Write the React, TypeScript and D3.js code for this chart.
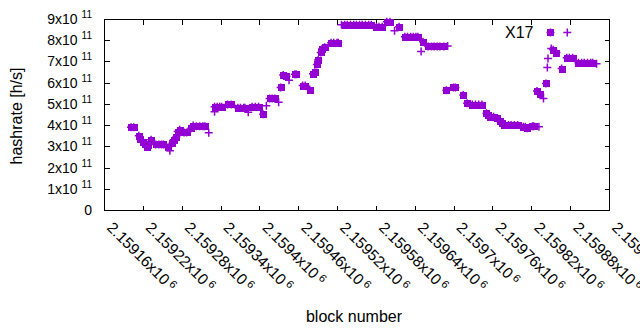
import React, { useEffect, useRef } from 'react';
import * as d3 from 'd3';

// block numbers / hashrate (h/s) of the X17 estimate
const blocks = [
  2159201, 2159205, 2159213, 2159215, 2159219, 2159222, 2159225, 2159227, 2159232,
  2159239, 2159244, 2159248, 2159251, 2159258,
  2159265, 2159267, 2159271, 2159273, 2159276,
  2159283, 2159287, 2159294, 2159297,
  2159302, 2159307, 2159312, 2159315,
  2159330, 2159334, 2159338, 2159341,
  2159350, 2159356,
  2159366, 2159370, 2159375, 2159377,
  2159388, 2159393, 2159398,
  2159405,
  2159415, 2159419, 2159423,
  2159432, 2159436, 2159441,
  2159454, 2159456,
  2159466, 2159470, 2159477,
  2159482, 2159485, 2159488, 2159490, 2159494, 2159496, 2159500,
  2159510, 2159514, 2159519, 2159521,
  2159531, 2159535, 2159540, 2159545, 2159549, 2159554, 2159558, 2159563, 2159568, 2159572,
  2159580, 2159584, 2159589,
  2159596, 2159601,
  2159615,
  2159624, 2159628, 2159633, 2159637, 2159641, 2159644,
  2159652,
  2159660, 2159665, 2159669, 2159674, 2159678, 2159684,
  2159688,
  2159699, 2159702,
  2159714, 2159720,
  2159728, 2159733, 2159738, 2159743,
  2159750, 2159753, 2159756, 2159761, 2159766, 2159771, 2159774, 2159777,
  2159784, 2159788, 2159793, 2159798,
  2159807, 2159810, 2159813,
  2159821, 2159823,
  2159828, 2159833,
  2159842,
  2159853, 2159858,
  2159866,
  2159874, 2159878, 2159883,
  2159892, 2159897, 2159901, 2159906, 2159911, 2159914,
];

const hashrate = [
  3.92e11, 3.92e11, 3.52e11, 3.38e11, 3.25e11, 3.13e11, 3.01e11, 3.09e11, 3.33e11,
  3.11e11, 3.11e11, 3.11e11, 3.11e11, 2.97e11,
  3.17e11, 3.33e11, 3.48e11, 3.72e11, 3.81e11,
  3.68e11, 3.68e11, 3.88e11, 4.0e11,
  3.97e11, 3.97e11, 3.97e11, 3.97e11,
  4.89e11, 4.89e11, 4.89e11, 4.89e11,
  5.0e11, 5.0e11,
  4.84e11, 4.84e11, 4.84e11, 4.84e11,
  4.89e11, 4.89e11, 4.89e11,
  4.53e11,
  5.28e11, 5.28e11, 5.28e11,
  5.8e11, 6.38e11, 6.33e11,
  6.42e11, 6.42e11,
  5.89e11, 5.89e11, 5.7e11,
  6.44e11, 6.52e11, 6.88e11, 7.09e11, 7.45e11, 7.61e11, 7.69e11,
  7.91e11, 7.91e11, 7.91e11, 7.91e11,
  8.75e11, 8.75e11, 8.75e11, 8.75e11, 8.75e11, 8.75e11, 8.75e11, 8.75e11, 8.75e11, 8.75e11,
  8.66e11, 8.66e11, 8.66e11,
  8.89e11, 8.89e11,
  8.66e11,
  8.19e11, 8.19e11, 8.19e11, 8.19e11, 8.19e11, 8.19e11,
  7.95e11,
  7.73e11, 7.73e11, 7.73e11, 7.73e11, 7.73e11, 7.73e11,
  5.67e11,
  5.8e11, 5.8e11,
  5.44e11, 5.05e11,
  4.99e11, 4.99e11, 4.99e11, 4.99e11,
  4.58e11, 4.5e11, 4.42e11, 4.42e11, 4.35e11, 4.23e11, 4.14e11, 4.03e11,
  4.03e11, 4.03e11, 4.03e11, 4.03e11,
  3.95e11, 3.95e11, 3.88e11,
  3.97e11, 3.97e11,
  5.63e11, 5.48e11,
  5.99e11,
  7.57e11, 7.44e11,
  6.69e11,
  7.2e11, 7.2e11, 7.2e11,
  6.96e11, 6.96e11, 6.96e11, 6.96e11, 6.96e11, 6.96e11,
];

// points that show only the "+" marker
const loneBlocks = [
  2159261, 2159321, 2159330, 2159382, 2159410, 2159429, 2159445, 2159526,
  2159608, 2159649, 2159690, 2159831, 2159838, 2159844, 2159845, 2159850, 2159920,
];
const loneHashrate = [
  2.81e11, 3.66e11, 4.65e11, 4.63e11, 4.94e11, 5.1e11, 6.14e11, 8.75e11,
  8.47e11, 7.49e11, 7.75e11, 3.95e11, 5.28e11, 6.74e11, 7.16e11, 7.63e11, 6.92e11,
];

const xTicks = [
  2159160, 2159220, 2159280, 2159340, 2159400, 2159460, 2159520,
  2159580, 2159640, 2159700, 2159760, 2159820, 2159880, 2159940,
];
const xTickLabels = [
  '2.15916', '2.15922', '2.15928', '2.15934', '2.1594', '2.15946', '2.15952',
  '2.15958', '2.15964', '2.1597', '2.15976', '2.15982', '2.15988', '2.15994',
];
const yTicks = [0, 1e11, 2e11, 3e11, 4e11, 5e11, 6e11, 7e11, 8e11, 9e11];
const yTickLabels = ['0', '1', '2', '3', '4', '5', '6', '7', '8', '9'];

const seriesName = 'X17';

const App = () => {
  const ref = useRef<SVGSVGElement>(null);

  useEffect(() => {
    const width = 640;
    const height = 330;
    const left = 104.5, right = 609.5, top = 19.5, bottom = 210.5;
    const purple = '#9400d3';
    const font = '"Liberation Sans", Arial, sans-serif';

    const svg = d3.select(ref.current);
    svg.selectAll('*').remove();
    svg.attr('width', width).attr('height', height);

    const x = d3.scaleLinear().domain([2159160, 2159940]).range([left, right]);
    const y = d3.scaleLinear().domain([0, 9e11]).range([bottom, top]);

    // ticks (mirrored on top / right)
    const tk = svg.append('g').attr('stroke', '#000').attr('stroke-width', 1)
      .attr('shape-rendering', 'crispEdges');
    xTicks.forEach(t => {
      const px = Math.round(x(t) - 0.5) + 0.5;
      tk.append('line').attr('x1', px).attr('x2', px).attr('y1', bottom).attr('y2', bottom - 5);
      tk.append('line').attr('x1', px).attr('x2', px).attr('y1', top).attr('y2', top + 5);
    });
    yTicks.forEach(t => {
      const py = Math.round(y(t) - 0.5) + 0.5;
      tk.append('line').attr('x1', left).attr('x2', left + 5).attr('y1', py).attr('y2', py);
      tk.append('line').attr('x1', right).attr('x2', right - 5).attr('y1', py).attr('y2', py);
    });
    tk.append('rect').attr('x', left).attr('y', top)
      .attr('width', right - left).attr('height', bottom - top).attr('fill', 'none');

    // y tick labels
    const yl = svg.append('g').attr('font-family', font).attr('fill', '#000');
    yTicks.forEach((t, i) => {
      const txt = yl.append('text').attr('x', 92).attr('y', y(t) + 4.5)
        .attr('text-anchor', 'end').attr('font-size', 14);
      if (t === 0) {
        txt.text(yTickLabels[i]);
      } else {
        txt.append('tspan').text(`${yTickLabels[i]}x10`);
        txt.append('tspan').attr('dx', 4).attr('dy', -6).attr('font-size', 10).text('11');
      }
    });

    // x tick labels, rotated
    const xl = svg.append('g').attr('font-family', font).attr('fill', '#000');
    xTicks.forEach((t, i) => {
      const txt = xl.append('text')
        .attr('transform', `translate(${x(t) + 1.5},228.5) rotate(45)`)
        .attr('font-size', 15.5);
      txt.append('tspan').text(`${xTickLabels[i]}x10`);
      txt.append('tspan').attr('dx', 3).attr('dy', -4.5).attr('font-size', 11).text('6');
    });

    // axis titles
    svg.append('text').attr('x', 354).attr('y', 321.5).attr('text-anchor', 'middle')
      .attr('font-family', font).attr('font-size', 16).text('block number');
    svg.append('text').attr('transform', 'translate(22,116) rotate(-90)')
      .attr('text-anchor', 'middle').attr('font-family', font).attr('font-size', 16)
      .text('hashrate [h/s]');

    const plot = svg.append('g');
    const square = 6;
    const arm = 4;

    const drawCross = (g: any, cx: number, cy: number) => {
      g.append('path')
        .attr('d', `M${cx - arm},${cy}H${cx + arm}M${cx},${cy - arm}V${cy + arm}`)
        .attr('stroke', purple).attr('stroke-width', 1.5).attr('fill', 'none');
    };

    const pts = blocks.map((b, i) => ({ b, v: hashrate[i] }));
    plot.selectAll('rect.sq').data(pts).enter().append('rect')
      .attr('class', 'sq')
      .attr('x', d => Math.round(x(d.b) - square / 2))
      .attr('y', d => Math.round(y(d.v) - square / 2))
      .attr('width', square + 1).attr('height', square + 1)
      .attr('shape-rendering', 'crispEdges')
      .attr('fill', purple);
    pts.forEach(d => drawCross(plot, x(d.b), y(d.v)));
    loneBlocks.forEach((b, i) => drawCross(plot, x(b), y(loneHashrate[i])));

    // key
    svg.append('text').attr('x', 533.5).attr('y', 37.5).attr('text-anchor', 'end')
      .attr('font-family', font).attr('font-size', 16).text(seriesName);
    svg.append('rect').attr('x', 547).attr('y', 29)
      .attr('width', square + 1).attr('height', square + 1)
      .attr('shape-rendering', 'crispEdges').attr('fill', purple);
    drawCross(svg, 550.5, 32.5);
    drawCross(svg, 567.3, 32.5);
  }, []);

  return (
    <svg ref={ref} style={{ position: 'absolute', left: 0, top: 0, background: '#fff' }} />
  );
};

export default App;
